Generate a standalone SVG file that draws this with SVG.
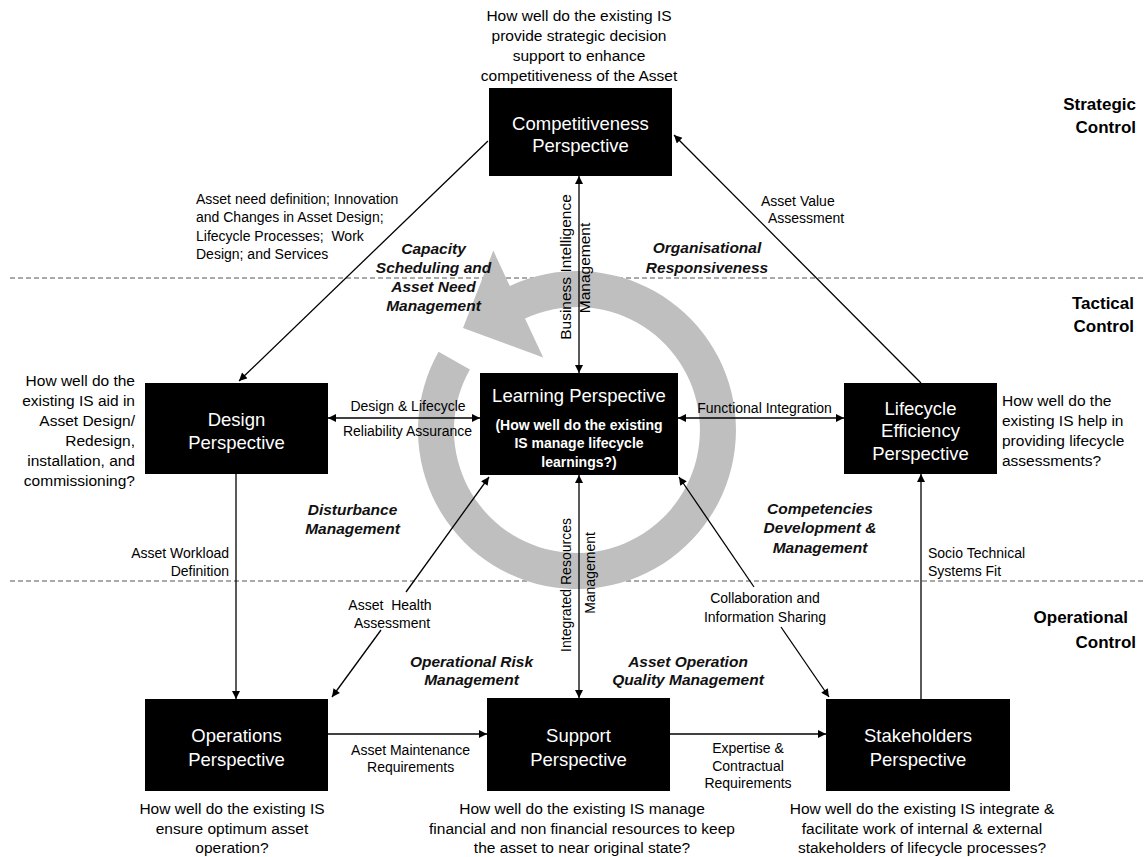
<svg xmlns="http://www.w3.org/2000/svg" width="1145" height="857" viewBox="0 0 1145 857">
<defs>
<style>
text{font-family:"Liberation Sans",Arial,Helvetica,sans-serif;fill:#000}
.q{font-size:15.5px}
.qm{font-size:15.5px;text-anchor:middle}
.qe{font-size:15.5px;text-anchor:end}
.l{font-size:14px}
.lm{font-size:14px;text-anchor:middle}
.le{font-size:14px;text-anchor:end}
.bi{font-size:15.5px;font-weight:bold;font-style:italic;text-anchor:middle;fill:#111}
.ctl{font-size:17px;font-weight:bold;text-anchor:end}
.box{fill:#000}
.bt{fill:#fff;font-size:18.5px;text-anchor:middle}
.bb{fill:#fff;font-size:14px;font-weight:bold;text-anchor:middle}
.conn{stroke:#000;stroke-width:1.3;fill:none}
.dash{stroke:#555;stroke-width:1;stroke-dasharray:5 3;fill:none}
.ring{fill:#bfbfbf}
</style>
<marker id="ah" viewBox="0 0 10 10" refX="10" refY="5" markerWidth="9" markerHeight="8" markerUnits="userSpaceOnUse" orient="auto-start-reverse">
<path d="M0,0 L10,5 L0,10 z" fill="#000"/>
</marker>
</defs>
<rect width="1145" height="857" fill="#fff"/>

<g id="levels">
<line class="dash" x1="10" y1="278" x2="1145" y2="278"/>
<line class="dash" x1="10" y1="581" x2="1145" y2="581"/>
<text class="ctl" x="1136" y="110">Strategic</text>
<text class="ctl" x="1136" y="133">Control</text>
<text class="ctl" x="1134" y="309">Tactical</text>
<text class="ctl" x="1134" y="332">Control</text>
<text class="ctl" x="1128" y="623">Operational</text>
<text class="ctl" x="1136" y="648">Control</text>
</g>

<g id="cycle">
<path class="ring" d="M509.8,285.9 A159,159 0 1 1 438.6,351.7 L469.9,369.4 A123,123 0 1 0 525.0,318.5 L543.2,357.5 L463,328 L493.3,250.6 Z"/>
</g>

<g id="connectors">
<line class="conn" x1="488" y1="141" x2="239" y2="381" marker-end="url(#ah)"/>
<line class="conn" x1="921" y1="383" x2="674" y2="135" marker-end="url(#ah)"/>
<line class="conn" x1="579" y1="176" x2="579" y2="373" marker-start="url(#ah)" marker-end="url(#ah)"/>
<line class="conn" x1="328" y1="418" x2="480" y2="418" marker-start="url(#ah)" marker-end="url(#ah)"/>
<line class="conn" x1="678" y1="418" x2="844" y2="418" marker-start="url(#ah)" marker-end="url(#ah)"/>
<line class="conn" x1="236" y1="474" x2="236" y2="699" marker-end="url(#ah)"/>
<line class="conn" x1="579" y1="475" x2="579" y2="698" marker-start="url(#ah)" marker-end="url(#ah)"/>
<line class="conn" x1="406" y1="592" x2="489" y2="477" marker-end="url(#ah)"/>
<line class="conn" x1="381" y1="630" x2="332" y2="697" marker-end="url(#ah)"/>
<line class="conn" x1="754" y1="587" x2="679" y2="477" marker-end="url(#ah)"/>
<line class="conn" x1="781" y1="627" x2="829" y2="697" marker-end="url(#ah)"/>
<line class="conn" x1="328" y1="734" x2="487" y2="734" marker-end="url(#ah)"/>
<line class="conn" x1="670" y1="734" x2="826" y2="734" marker-end="url(#ah)"/>
<line class="conn" x1="921" y1="699" x2="921" y2="474" marker-end="url(#ah)"/>
</g>

<g id="connector-labels">
<text class="l" x="196" y="204">Asset need definition; Innovation</text>
<text class="l" x="196" y="222.3">and Changes in Asset Design;</text>
<text class="l" x="196" y="240.6" xml:space="preserve">Lifecycle Processes;  Work</text>
<text class="l" x="196" y="259">Design; and Services</text>
<text class="l" x="761" y="206">Asset Value</text>
<text class="l" x="768" y="223">Assessment</text>
<text class="q" x="571" y="267" text-anchor="middle" transform="rotate(-90 571 267)">Business Intelligence</text>
<text class="q" x="590" y="268" text-anchor="middle" transform="rotate(-90 590 268)">Management</text>
<text class="lm" x="408" y="411">Design &amp; Lifecycle</text>
<text class="lm" x="407.5" y="436">Reliability Assurance</text>
<text class="lm" x="764.5" y="413">Functional Integration</text>
<text class="le" x="229" y="558">Asset Workload</text>
<text class="le" x="229" y="576">Definition</text>
<text class="l" x="928" y="558">Socio Technical</text>
<text class="l" x="928" y="576">Systems Fit</text>
<text class="lm" x="390" y="610" xml:space="preserve">Asset  Health</text>
<text class="lm" x="392" y="628">Assessment</text>
<text class="lm" x="765" y="603">Collaboration and</text>
<text class="lm" x="765" y="622">Information Sharing</text>
<text class="l" x="571" y="585" text-anchor="middle" transform="rotate(-90 571 585)">Integrated Resources</text>
<text class="l" x="595" y="573" text-anchor="middle" transform="rotate(-90 595 573)">Management</text>
<text class="lm" x="410.6" y="755">Asset Maintenance</text>
<text class="lm" x="410.6" y="772">Requirements</text>
<text class="lm" x="748" y="753">Expertise &amp;</text>
<text class="lm" x="748" y="771">Contractual</text>
<text class="lm" x="748" y="788">Requirements</text>
</g>

<g id="capabilities">
<text class="bi" x="433.5" y="253.5">Capacity</text>
<text class="bi" x="433.5" y="272.5">Scheduling and</text>
<text class="bi" x="433.5" y="291.5">Asset Need</text>
<text class="bi" x="433.5" y="310.5">Management</text>
<text class="bi" x="707" y="252.5">Organisational</text>
<text class="bi" x="707" y="272.5">Responsiveness</text>
<text class="bi" x="352.5" y="514.5">Disturbance</text>
<text class="bi" x="352.5" y="533.5">Management</text>
<text class="bi" x="820" y="513.5">Competencies</text>
<text class="bi" x="820" y="532.5">Development &amp;</text>
<text class="bi" x="820" y="552.5">Management</text>
<text class="bi" x="471.5" y="666.5">Operational Risk</text>
<text class="bi" x="471.5" y="684.5">Management</text>
<text class="bi" x="688" y="666.5">Asset Operation</text>
<text class="bi" x="688" y="684.5">Quality Management</text>
</g>

<g id="competitiveness">
<text class="qm" x="579" y="20.5">How well do the existing IS</text>
<text class="qm" x="579" y="40.5">provide strategic decision</text>
<text class="qm" x="579" y="60.5">support to enhance</text>
<text class="qm" x="579" y="80.5">competitiveness of the Asset</text>
<text class="qm" x="579" y="100.5">Management Business?</text>
<rect class="box" x="489" y="88" width="183" height="88"/>
<text class="bt" x="580.5" y="129.5">Competitiveness</text>
<text class="bt" x="580.5" y="151.5">Perspective</text>
</g>

<g id="design">
<text class="qe" x="135" y="385.5">How well do the</text>
<text class="qe" x="135" y="405.5">existing IS aid in</text>
<text class="qe" x="135" y="425.5">Asset Design/</text>
<text class="qe" x="135" y="445.5">Redesign,</text>
<text class="qe" x="135" y="465.5">installation, and</text>
<text class="qe" x="135" y="485.5">commissioning?</text>
<rect class="box" x="145" y="383" width="183" height="91"/>
<text class="bt" x="236.5" y="425.5">Design</text>
<text class="bt" x="236.5" y="448.5">Perspective</text>
</g>

<g id="learning">
<rect class="box" x="480" y="373" width="198" height="102"/>
<text class="bt" x="579" y="401.5">Learning Perspective</text>
<text class="bb" x="579" y="430">(How well do the existing</text>
<text class="bb" x="579" y="448">IS manage lifecycle</text>
<text class="bb" x="579" y="467">learnings?)</text>
</g>

<g id="lifecycle">
<rect class="box" x="844" y="383" width="153" height="91"/>
<text class="bt" x="920.5" y="414.5">Lifecycle</text>
<text class="bt" x="920.5" y="436.5">Efficiency</text>
<text class="bt" x="920.5" y="459.5">Perspective</text>
<text class="q" x="1002" y="405.5">How well do the</text>
<text class="q" x="1002" y="425.5">existing IS help in</text>
<text class="q" x="1002" y="445.5">providing lifecycle</text>
<text class="q" x="1002" y="466">assessments?</text>
</g>

<g id="operations">
<rect class="box" x="145" y="699" width="183" height="92"/>
<text class="bt" x="236.5" y="741.5">Operations</text>
<text class="bt" x="236.5" y="765.5">Perspective</text>
<text class="qm" x="232" y="813.5">How well do the existing IS</text>
<text class="qm" x="232" y="833.5">ensure optimum asset</text>
<text class="qm" x="232" y="852.5">operation?</text>
</g>

<g id="support">
<rect class="box" x="487" y="698" width="183" height="93"/>
<text class="bt" x="578.5" y="741.5">Support</text>
<text class="bt" x="578.5" y="765.5">Perspective</text>
<text class="qm" x="582" y="813.5">How well do the existing IS manage</text>
<text class="qm" x="582" y="833.5">financial and non financial resources to keep</text>
<text class="qm" x="582" y="852.5">the asset to near original state?</text>
</g>

<g id="stakeholders">
<rect class="box" x="826" y="699" width="184" height="92"/>
<text class="bt" x="918" y="741.5">Stakeholders</text>
<text class="bt" x="918" y="765.5">Perspective</text>
<text class="qm" x="922" y="813.5">How well do the existing IS integrate &amp;</text>
<text class="qm" x="922" y="833.5">facilitate work of internal &amp; external</text>
<text class="qm" x="922" y="852.5">stakeholders of lifecycle processes?</text>
</g>
</svg>
